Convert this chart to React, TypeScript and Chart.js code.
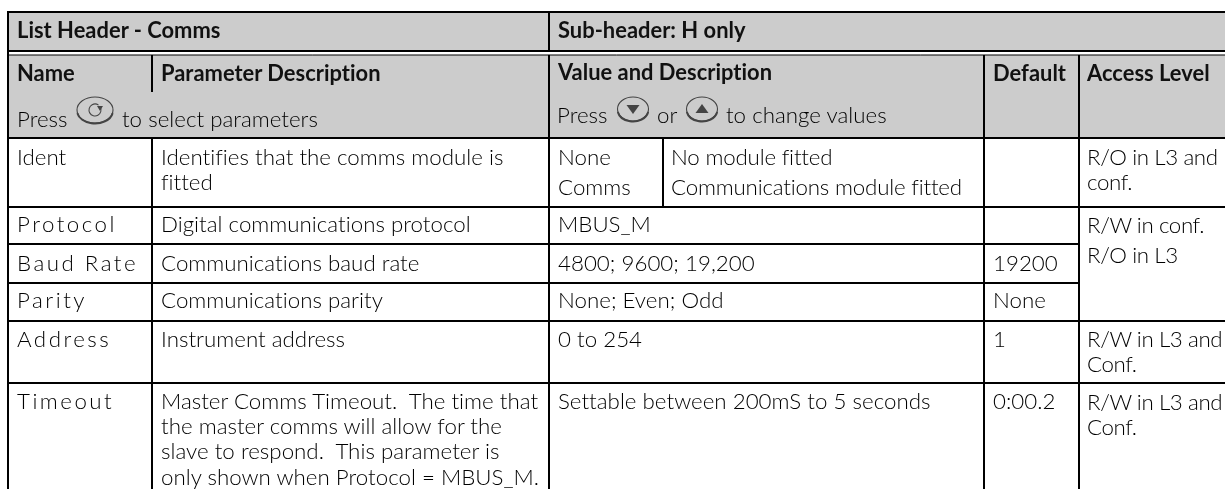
import React, { useEffect, useRef } from "react";
import { Chart, registerables } from "chart.js";

Chart.register(...registerables);

const headerTitles = ["List Header - Comms", "Sub-header: H only"];
const columnHeaders = ["Name", "Parameter Description", "Value and Description", "Default", "Access Level"];
const parameterNames = ["Ident", "Protocol", "Baud Rate", "Parity", "Address", "Timeout"];
const parameterDescriptions = [
  ["Identifies that the comms module is", "fitted"],
  ["Digital communications protocol"],
  ["Communications baud rate"],
  ["Communications parity"],
  ["Instrument address"],
  ["Master Comms Timeout.  The time that", "the master comms will allow for the", "slave to respond.  This parameter is", "only shown when Protocol = MBUS_M."],
];
const valueDescriptions = [
  ["None", "Comms"],
  ["MBUS_M"],
  ["4800; 9600; 19,200"],
  ["None; Even; Odd"],
  ["0 to 254"],
  ["Settable between 200mS to 5 seconds"],
];
const identMeanings = ["No module fitted", "Communications module fitted"];
const defaults = ["", "", "19200", "None", "1", "0:00.2"];
const accessLevels = [
  ["R/O in L3 and", "conf."],
  ["R/W in conf."],
  ["R/O in L3"],
  [],
  ["R/W in L3 and", "Conf."],
  ["R/W in L3 and", "Conf."],
];

const X = { edge: 8, c1: 152, c2: 549, c2b: 663, c3: 984, c4: 1079, right: 1225 };
const Y = { top: 12, h1: 51, h2: 55, h3: 138, bottom: 489 };
const ROW_BOTTOMS = [207, 244, 283, 321, 383];
const ROW_BASELINES = [165, 232, 271, 308, 347, 409];
const ACCESS_BASELINES = [165, 233, 263, 0, 347, 410];
const FONT = "Lato";
const SIZE = 22.3;
const BOLD_SIZE = 21.9;
const INK = "#000000";

const tablePlugin = {
  id: "table",
  beforeDatasetsDraw(chart: any) {
    const { ctx, scales } = chart;
    const px = (v: number) => scales.x.getPixelForValue(v);
    const py = (v: number) => scales.y.getPixelForValue(v);
    const text = (s: string, x: number, y: number, opt: any = {}) => {
      ctx.save();
      ctx.fillStyle = opt.weight === 700 ? "#111111" : INK;
      ctx.font = opt.weight === 700 ? `700 ${BOLD_SIZE}px ${FONT}` : `300 ${SIZE}px ${FONT}`;
      ctx.letterSpacing = opt.spacing || "0.02px";
      ctx.fontKerning = "normal";
      ctx.textBaseline = "alphabetic";
      ctx.fillText(s, px(x), py(y));
      ctx.restore();
    };
    const line = (a: number, b: number, c: number, d: number, w = 2) => {
      ctx.save();
      ctx.strokeStyle = "#000";
      ctx.lineWidth = w;
      ctx.beginPath();
      ctx.moveTo(px(a), py(b));
      ctx.lineTo(px(c), py(d));
      ctx.stroke();
      ctx.restore();
    };
    const button = (cx: number, cy: number, rx: number, ry: number, kind: string) => {
      const x = px(cx);
      const y = py(cy);
      ctx.save();
      ctx.strokeStyle = "#444";
      ctx.fillStyle = "#444";
      ctx.lineWidth = 1.1;
      ctx.beginPath();
      ctx.ellipse(x, y, rx, ry, 0, 0, Math.PI * 2);
      ctx.stroke();
      ctx.lineWidth = 2;
      ctx.beginPath();
      ctx.ellipse(x, y + 0.6, rx, ry, 0, 0.2, Math.PI - 0.2);
      ctx.stroke();
      ctx.lineWidth = 1.1;
      if (kind === "down" || kind === "up") {
        const d = kind === "down" ? 1 : -1;
        ctx.beginPath();
        ctx.moveTo(x - 6.5, y - 4 * d);
        ctx.lineTo(x + 6.5, y - 4 * d);
        ctx.lineTo(x, y + 5 * d);
        ctx.closePath();
        ctx.fill();
      } else {
        ctx.beginPath();
        ctx.arc(x, y, 6, -0.5, Math.PI * 1.7);
        ctx.stroke();
        ctx.beginPath();
        ctx.moveTo(x + 2, y - 4);
        ctx.lineTo(x + 8, y - 4);
        ctx.lineTo(x + 5, y + 1);
        ctx.closePath();
        ctx.fill();
      }
      ctx.restore();
    };

    ctx.save();
    ctx.fillStyle = "#cccccc";
    ctx.fillRect(px(X.edge), py(Y.top), px(X.right) - px(X.edge), py(Y.h1) - py(Y.top));
    ctx.fillRect(px(X.edge), py(Y.h2), px(X.right) - px(X.edge), py(Y.h3) - py(Y.h2));
    ctx.restore();

    line(X.edge, Y.top, X.right, Y.top);
    line(X.edge, Y.h1, X.right, Y.h1);
    line(X.edge, Y.h2, X.right, Y.h2, 1);
    line(X.edge, Y.h3, X.right, Y.h3);
    line(X.edge, Y.top - 1, X.edge, Y.bottom);
    line(X.c2, Y.top, X.c2, Y.h1);
    line(X.c1, Y.h2, X.c1, 92);
    line(X.c1, Y.h3, X.c1, Y.bottom);
    line(X.c2, Y.h2, X.c2, Y.bottom);
    line(X.c3, Y.h2, X.c3, Y.bottom);
    line(X.c4, Y.h2, X.c4, Y.bottom);
    line(X.c2b, Y.h3, X.c2b, ROW_BOTTOMS[0]);
    ROW_BOTTOMS.forEach((r, i) => {
      line(X.edge, r, i === 1 || i === 2 ? X.c4 : X.right, r);
    });

    text(headerTitles[0], 17, 38, { weight: 700 });
    text(headerTitles[1], 558, 38, { weight: 700 });
    text(columnHeaders[0], 17, 81, { weight: 700 });
    text(columnHeaders[1], 161, 81, { weight: 700 });
    text(columnHeaders[2], 558, 80, { weight: 700 });
    text(columnHeaders[3], 993, 81, { weight: 700 });
    text(columnHeaders[4], 1087, 81, { weight: 700 });

    text("Press", 17, 127);
    button(95, 110, 18, 13, "scroll");
    text("to select parameters", 122, 127);
    text("Press", 557, 123);
    button(633, 109, 15.5, 12, "down");
    text("or", 657, 123);
    button(702, 109, 15.5, 12, "up");
    text("to change values", 726, 123);

    parameterNames.forEach((name, i) => {
      const base = ROW_BASELINES[i];
      text(name, 17, base, { spacing: i === 0 ? "0.02px" : "2.5px" });
      const descStep = 25.2;
      parameterDescriptions[i].forEach((s, j) => text(s, 161, base + j * descStep));
      const valueStep = i === 0 ? 30 : 25;
      valueDescriptions[i].forEach((s, j) => text(s, 558, base + j * valueStep));
      if (i === 0) identMeanings.forEach((s, j) => text(s, 671, base + j * valueStep, { spacing: "-0.18px" }));
      if (defaults[i]) text(defaults[i], 993, base);
      accessLevels[i].forEach((s, j) => text(s, 1087, ACCESS_BASELINES[i] + j * 25, { spacing: "-0.4px" }));
    });
  },
};

export default function App() {
  const ref = useRef<HTMLCanvasElement>(null);
  useEffect(() => {
    document.body.style.margin = "0";
    const chart = new Chart(ref.current!, {
      type: "scatter",
      data: { datasets: [] },
      plugins: [tablePlugin],
      options: {
        animation: false,
        responsive: false,
        layout: { padding: 0 },
        plugins: { legend: { display: false }, tooltip: { enabled: false } },
        scales: {
          x: { type: "linear", display: false, min: 0, max: 1225 },
          y: { type: "linear", display: false, min: 0, max: 489, reverse: true },
        },
      },
    });
    return () => chart.destroy();
  }, []);
  return <canvas ref={ref} width={1225} height={489} style={{ display: "block", background: "#fff" }} />;
}
